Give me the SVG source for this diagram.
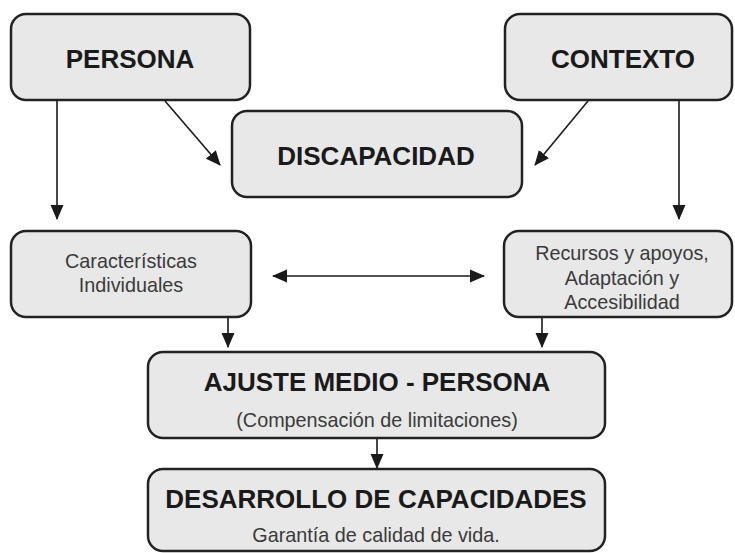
<svg xmlns="http://www.w3.org/2000/svg" width="735" height="553" viewBox="0 0 735 553">
<defs>
<marker id="ah" markerUnits="userSpaceOnUse" markerWidth="16" markerHeight="14" refX="14" refY="6.5" orient="auto-start-reverse" viewBox="0 0 16 13">
<path d="M0,0 L15,6.5 L0,13 Z" fill="#1a1a1a"/>
</marker>
</defs>
<style>
.box{fill:#e8e8e8;stroke:#222;stroke-width:2.5}
.t{font-family:"Liberation Sans",Arial,sans-serif;font-weight:bold;font-size:26px;fill:#1a1a1a;text-anchor:middle}
.s{font-family:"Liberation Sans",Arial,sans-serif;font-size:19.8px;fill:#3a3a3a;text-anchor:middle}
.c{stroke:#1a1a1a;stroke-width:1.6;fill:none;marker-end:url(#ah)}
</style>
<rect width="735" height="553" fill="#ffffff"/>
<g id="connectors">
<line class="c" x1="57" y1="101" x2="57" y2="219"/>
<line class="c" x1="165" y1="101" x2="220" y2="165"/>
<line class="c" x1="588" y1="101" x2="535" y2="165"/>
<line class="c" x1="679" y1="101" x2="679" y2="219"/>
<line class="c" x1="273" y1="276" x2="484" y2="276" style="marker-start:url(#ah)"/>
<line class="c" x1="228" y1="318" x2="228" y2="347"/>
<line class="c" x1="542" y1="318" x2="542" y2="347"/>
<line class="c" x1="377" y1="439" x2="377" y2="468"/>
</g>
<g id="persona">
<rect class="box" x="11" y="14" width="239" height="86" rx="15"/>
<text class="t" x="130" y="68">PERSONA</text>
</g>
<g id="contexto">
<rect class="box" x="505" y="14" width="227" height="86" rx="15"/>
<text class="t" x="623" y="68">CONTEXTO</text>
</g>
<g id="discapacidad">
<rect class="box" x="232" y="111" width="290" height="86" rx="15"/>
<text class="t" x="376" y="165">DISCAPACIDAD</text>
</g>
<g id="caracteristicas">
<rect class="box" x="11" y="231" width="240" height="86" rx="15"/>
<text class="s" x="131" y="268">Características</text>
<text class="s" x="131" y="292">Individuales</text>
</g>
<g id="recursos">
<rect class="box" x="504" y="231" width="228" height="86" rx="15"/>
<text class="s" x="622" y="260">Recursos y apoyos,</text>
<text class="s" x="622" y="285">Adaptación y</text>
<text class="s" x="622" y="309">Accesibilidad</text>
</g>
<g id="ajuste">
<rect class="box" x="148" y="352" width="457" height="86" rx="15"/>
<text class="t" x="377" y="391">AJUSTE MEDIO - PERSONA</text>
<text class="s" x="377" y="427">(Compensación de limitaciones)</text>
</g>
<g id="desarrollo">
<rect class="box" x="148" y="469" width="457" height="82" rx="15"/>
<text class="t" x="376" y="508">DESARROLLO DE CAPACIDADES</text>
<text class="s" x="376" y="542">Garantía de calidad de vida.</text>
</g>
</svg>
